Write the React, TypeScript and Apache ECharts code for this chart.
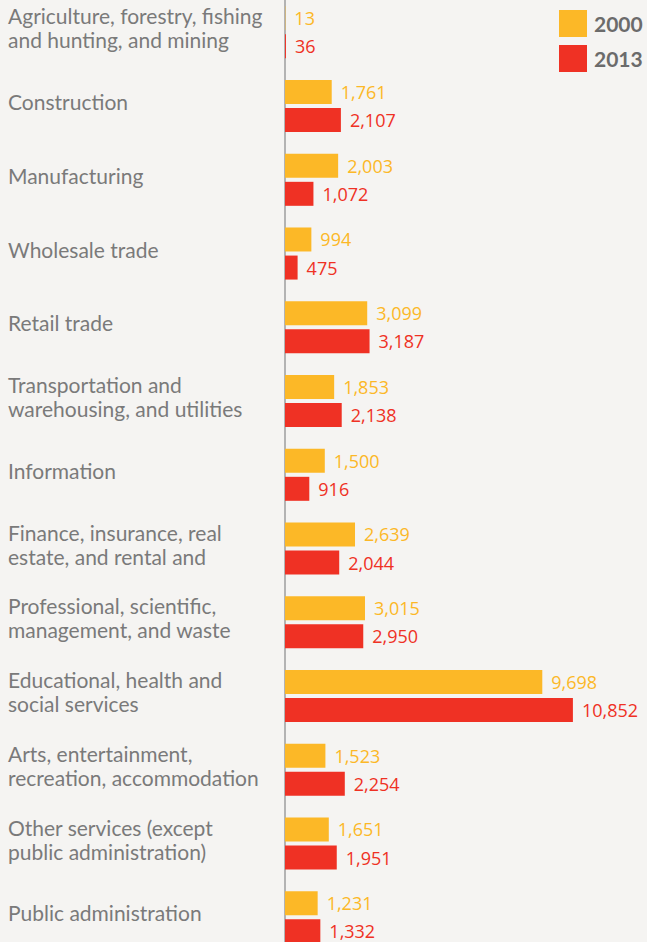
import React, { useEffect, useRef } from "react";
import * as echarts from "echarts";

const categories = [
  "Agriculture, forestry, fishing\nand hunting, and mining",
  "Construction",
  "Manufacturing",
  "Wholesale trade",
  "Retail trade",
  "Transportation and\nwarehousing, and utilities",
  "Information",
  "Finance, insurance, real\nestate, and rental and",
  "Professional, scientific,\nmanagement, and waste",
  "Educational, health and\nsocial services",
  "Arts, entertainment,\nrecreation, accommodation",
  "Other services (except\npublic administration)",
  "Public administration",
];
const values2000 = [13, 1761, 2003, 994, 3099, 1853, 1500, 2639, 3015, 9698, 1523, 1651, 1231];
const values2013 = [36, 2107, 1072, 475, 3187, 2138, 916, 2044, 2950, 10852, 2254, 1951, 1332];
const seriesNames = ["2000", "2013"];

const YELLOW = "#fcb827";
const RED = "#ef3124";
const FONT = "Open Sans";
const CAT_FONT = "Lato";
const BG = "#f5f4f2";

export default function App() {
  const ref = useRef<HTMLDivElement>(null);
  useEffect(() => {
    document.body.style.margin = "0";
    document.body.style.background = BG;
    const chart = echarts.init(ref.current!, undefined, { renderer: "svg" });
    const fmt = (p: any) => Number(p.value).toLocaleString("en-US");
    chart.setOption({
      animation: false,
      backgroundColor: BG,
      legend: {
        orient: "vertical",
        left: 559,
        top: 20,
        padding: 0,
        itemWidth: 28,
        itemHeight: 27,
        itemGap: 8,
        icon: "rect",
        textStyle: { fontFamily: CAT_FONT, fontSize: 21, fontWeight: "bold", color: "#6b6b6b", padding: [0, 0, 0, 2] },
        data: seriesNames,
      },
      grid: [
        { left: 285, top: 5.4, width: 361, height: 958.75 },
        { left: 285, top: 1.0, width: 361, height: 958.75 },
      ],
      xAxis: [
        { type: "value", min: 0, max: 13607, show: false, gridIndex: 0 },
        { type: "value", min: 0, max: 13607, show: false, gridIndex: 1 },
      ],
      yAxis: [
        {
          type: "category",
          gridIndex: 0,
          inverse: true,
          data: categories,
          axisLine: { show: true, lineStyle: { color: "#b3b3b3", width: 2 } },
          axisTick: { show: false },
          axisLabel: { show: false },
        },
        {
          type: "category",
          gridIndex: 1,
          inverse: true,
          data: categories,
          axisLine: { show: false },
          axisTick: { show: false },
          axisLabel: {
            align: "left",
            margin: 277,
            fontFamily: CAT_FONT,
            fontSize: 21,
            lineHeight: 24,
            color: "#7a7a7a",
          },
        },
      ],
      series: [
        {
          name: seriesNames[0],
          type: "bar",
          data: values2000,
          barWidth: 24,
          barGap: "17%",
          itemStyle: { color: YELLOW },
          label: { show: true, position: "right", distance: 9, formatter: fmt, color: YELLOW, fontFamily: FONT, fontSize: 18 },
        },
        {
          name: seriesNames[1],
          type: "bar",
          data: values2013,
          barWidth: 24,
          itemStyle: { color: RED },
          label: { show: true, position: "right", distance: 9, formatter: fmt, color: RED, fontFamily: FONT, fontSize: 18 },
        },
      ],
    });
    return () => chart.dispose();
  }, []);
  return (
    <div style={{ position: "relative", width: 647, height: 942, overflow: "hidden", background: BG }}>
      <div ref={ref} style={{ position: "absolute", left: 0, top: -10, width: 647, height: 970 }} />
    </div>
  );
}
